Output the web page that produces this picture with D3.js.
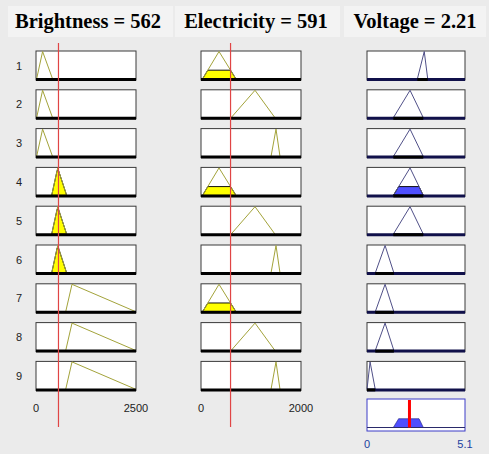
<!DOCTYPE html>
<html><head><meta charset="utf-8">
<script src="https://cdn.jsdelivr.net/npm/d3@7"></script>
<style>html,body{margin:0;padding:0;background:#ebebeb;}svg{display:block;}</style>
</head><body>
<script>
// ---- data ----
const rules = [1,2,3,4,5,6,7,8,9];
const brightnessValue = 562;
const electricityValue = 591;
const voltageValue = 2.21;
const brightnessDomain = [0, 2500];
const electricityDomain = [0, 2000];
const voltageDomain = [0, 5.1];
const brightnessTicks = ["0", "2500"];
const electricityTicks = ["0", "2000"];
const voltageTicks = ["0", "5.1"];
// triangular MF params [a, b, c] per rule
const brightnessMF = [[15,165,415],[15,165,415],[15,165,415],[392,542,767],[392,542,767],[392,542,767],[742,900,2500],[742,900,2500],[742,900,2500]];
const electricityMF = [[30,360,700],[600,1080,1480],[1400,1500,1580],[30,360,700],[600,1080,1480],[1400,1500,1580],[30,360,700],[600,1080,1480],[1400,1500,1580]];
const voltageMF = [[2.62,2.98,3.16],[1.37,2.24,2.93],[1.37,2.24,2.93],[1.37,2.24,2.93],[1.37,2.24,2.93],[0.43,0.94,1.4],[0.43,0.94,1.4],[0.43,0.94,1.4],[0,0.16,0.43]];

// ---- helpers ----
const trimf = (x,[a,b,c]) => {
  if (x<=a || x>=c) return (x===b)?1:0;
  return x<=b ? (b===a?1:(x-a)/(b-a)) : (c===b?1:(c-x)/(c-b));
};
const W=489,H=454;
const svg=d3.select("body").append("svg").attr("width",W).attr("height",H);
svg.append("rect").attr("width",W).attr("height",H).attr("fill","#ebebeb");

const cols=[
  {name:"Brightness",val:brightnessValue,dom:brightnessDomain,mf:brightnessMF,ticks:brightnessTicks,x0:36,x1:136,box:[8,173],tc:88,line:"#a3a33a",fill:"#ffff00"},
  {name:"Electricity",val:electricityValue,dom:electricityDomain,mf:electricityMF,ticks:electricityTicks,x0:201,x1:301,box:[175,340],tc:256,line:"#a3a33a",fill:"#ffff00"},
  {name:"Voltage",val:voltageValue,dom:voltageDomain,mf:voltageMF,ticks:voltageTicks,x0:367,x1:465,box:[344,486],tc:415,line:"#505088",fill:"#4f4fff"}
];
const rowTop=51, rowPitch=38.8, rowH=29;
const pad=(rowPitch-rowH)/rowPitch;
const yRow=d3.scaleBand().domain(rules).range([rowTop,rowTop+rowPitch*8+rowH]).paddingInner(pad).paddingOuter(0);

// titles
cols.forEach(c=>{
  svg.append("rect").attr("x",c.box[0]).attr("y",6).attr("width",c.box[1]-c.box[0]).attr("height",31).attr("fill","#f3f3f3");
  svg.append("text").attr("x",c.tc).attr("y",28).attr("text-anchor","middle")
    .attr("font-family","Liberation Serif, Times New Roman, serif").attr("font-weight","bold").attr("font-size","20.5px")
    .attr("fill","#000").text(`${c.name} = ${c.val}`);
});

// rule numbers
rules.forEach(r=>{
  svg.append("text").attr("x",19).attr("y",yRow(r)+rowH/2+4).attr("text-anchor","middle")
    .attr("font-family","Liberation Sans, Arial, sans-serif").attr("font-size","11px").attr("fill","#222").text(r);
});

// firing strengths
const firing = rules.map((r,i)=>Math.min(trimf(brightnessValue,brightnessMF[i]),trimf(electricityValue,electricityMF[i])));

cols.forEach((c,ci)=>{
  const x=d3.scaleLinear().domain(c.dom).range([c.x0,c.x1]);
  rules.forEach((r,i)=>{
    const top=yRow(r), bot=top+yRow.bandwidth();
    const y=d3.scaleLinear().domain([0,1]).range([bot-1,top+0.5]);
    const g=svg.append("g");
    g.append("rect").attr("x",c.x0).attr("y",top).attr("width",c.x1-c.x0).attr("height",rowH)
      .attr("fill","#fff").attr("stroke","#3a3a3a").attr("stroke-width",1);
    const [a,b,cc]=c.mf[i];
    const deg = ci<2 ? trimf(c.val,c.mf[i]) : firing[i];
    if(deg>0){
      const pts=[[a,0],[a+(b-a)*deg,deg],[cc-(cc-b)*deg,deg],[cc,0]];
      g.append("path").attr("d",d3.line().x(d=>x(d[0])).y(d=>y(d[1]))(pts)+"Z")
        .attr("fill",c.fill).attr("stroke","#111").attr("stroke-width",1);
    }
    const mfPts=[[a,0],[b,1],[cc,0]];
    g.append("path").attr("d",d3.line().x(d=>x(d[0])).y(d=>y(d[1]))(mfPts))
      .attr("fill","none").attr("stroke",c.line).attr("stroke-width",1);
    g.append("line").attr("x1",c.x0).attr("x2",c.x1).attr("y1",bot-0.5).attr("y2",bot-0.5)
      .attr("stroke",ci<2?"#000":"#10104a").attr("stroke-width",3);
    if(ci===2){
      g.append("line").attr("x1",x(a)).attr("x2",x(cc)).attr("y1",bot-0.5).attr("y2",bot-0.5)
        .attr("stroke","#000").attr("stroke-width",3);
    }
  });
  if(ci<2){
    c.ticks.forEach((t,k)=>{
      svg.append("text").attr("x",x(c.dom[k])).attr("y",412).attr("text-anchor","middle")
        .attr("font-family","Liberation Sans, Arial, sans-serif").attr("font-size","11px").attr("fill","#222").text(t);
    });
    svg.append("line").attr("x1",x(c.val)).attr("x2",x(c.val)).attr("y1",43).attr("y2",427)
      .attr("stroke","#e04545").attr("stroke-width",1.2);
  } else {
    const top=399, bot=431;
    svg.append("rect").attr("x",c.x0).attr("y",top).attr("width",c.x1-c.x0).attr("height",bot-top)
      .attr("fill","#fff").attr("stroke","#3c3cc8").attr("stroke-width",1);
    const y=d3.scaleLinear().domain([0,1]).range([427.5,400]);
    const xs=d3.range(0,301).map(k=>c.dom[0]+(c.dom[1]-c.dom[0])*k/300);
    const agg=xs.map(v=>[v,d3.max(rules,(r,i)=>Math.min(firing[i],trimf(v,voltageMF[i])))]);
    svg.append("path").attr("d",d3.area().x(d=>x(d[0])).y0(y(0)).y1(d=>y(d[1]))(agg))
      .attr("fill","#4f4fff").attr("stroke","#2a2a8a").attr("stroke-width",0.8);
    svg.append("line").attr("x1",c.x0).attr("x2",c.x1).attr("y1",y(0)).attr("y2",y(0))
      .attr("stroke","#2a2a6a").attr("stroke-width",1);
    svg.append("line").attr("x1",x(c.val)).attr("x2",x(c.val)).attr("y1",400).attr("y2",427.5)
      .attr("stroke","#ff0000").attr("stroke-width",3);
    c.ticks.forEach((t,k)=>{
      svg.append("text").attr("x",x(c.dom[k])).attr("y",448).attr("text-anchor","middle")
        .attr("font-family","Liberation Sans, Arial, sans-serif").attr("font-size","11px").attr("fill","#2040a0").text(t);
    });
  }
});
</script>
</body></html>
